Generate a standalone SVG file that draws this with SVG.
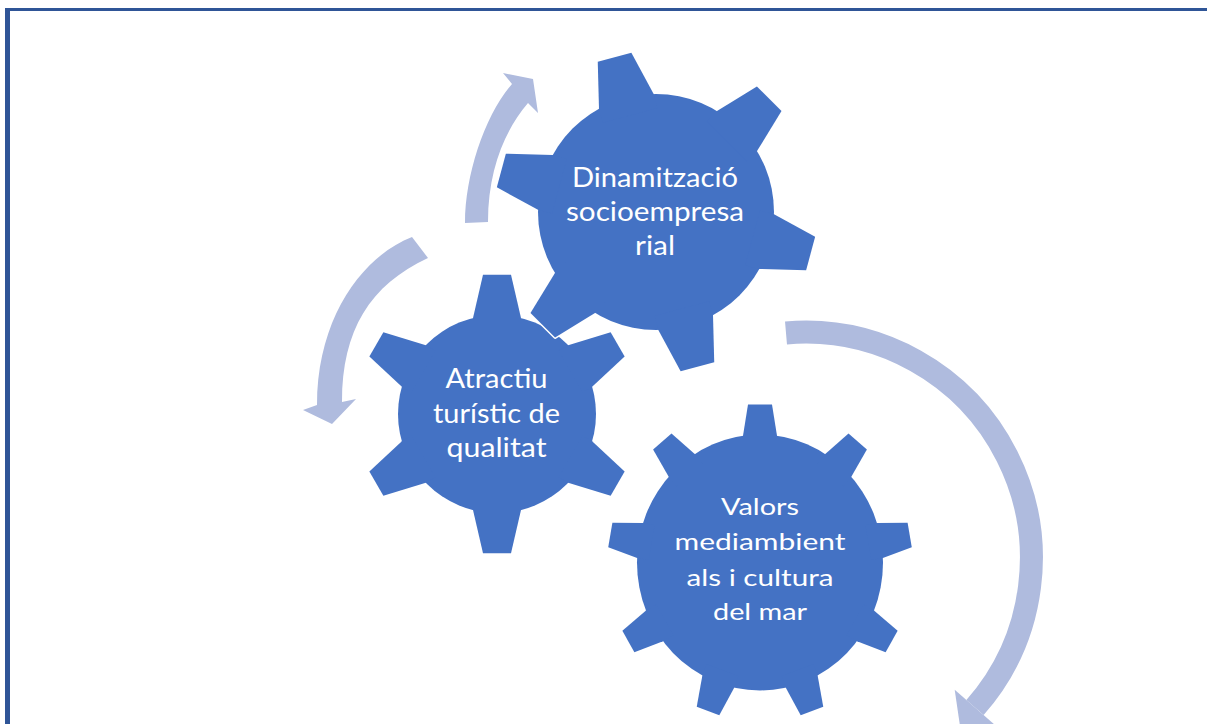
<svg xmlns="http://www.w3.org/2000/svg" width="1207" height="724" viewBox="0 0 1207 724">
<style>
.gear{fill:#4472C4}
.halo{fill:#fff;stroke:#fff;stroke-width:3;stroke-linejoin:round}
.arrow{fill:#AFBBDE}
.shaft{fill:none;stroke:#AFBBDE;stroke-width:23;stroke-linecap:butt}
.lbl{font-family:Lato,"Open Sans","Liberation Sans",sans-serif;fill:#fff;text-anchor:middle}
.frame{fill:#2F5597}
</style>
<defs>
<polygon id="t1" points="-28.3,-100 -28.3,-114.6 -17.4,-160.1 17.4,-160.1 28.3,-114.6 28.3,-100"/>
<polygon id="t2" points="-24,-85 -24,-96 -14,-139.3 14,-139.3 24,-96 24,-85"/>
<polygon id="t3" points="-17,-110 -17,-121.8 -12,-152 12,-152 17,-121.8 17,-110"/>
<g id="g1shape">
<circle r="118"/>
<use href="#t1" transform="rotate(-15)"/>
<use href="#t1" transform="rotate(45)"/>
<use href="#t1" transform="rotate(105)"/>
<use href="#t1" transform="rotate(165)"/>
<use href="#t1" transform="rotate(225)"/>
<use href="#t1" transform="rotate(285)"/>
</g>
<g id="g2shape">
<circle r="99"/>
<use href="#t2"/>
<use href="#t2" transform="rotate(60)"/>
<use href="#t2" transform="rotate(120)"/>
<use href="#t2" transform="rotate(180)"/>
<use href="#t2" transform="rotate(240)"/>
<use href="#t2" transform="rotate(300)"/>
</g>
<g id="g3shape">
<circle r="123"/>
<use href="#t3"/>
<use href="#t3" transform="rotate(40)"/>
<use href="#t3" transform="rotate(80)"/>
<use href="#t3" transform="rotate(120)"/>
<use href="#t3" transform="rotate(160)"/>
<use href="#t3" transform="rotate(200)"/>
<use href="#t3" transform="rotate(240)"/>
<use href="#t3" transform="rotate(280)"/>
<use href="#t3" transform="rotate(320)"/>
</g>
</defs>

<g id="frame">
<rect class="frame" x="5" y="8" width="5" height="716"/>
<rect class="frame" x="5" y="8" width="1202" height="3"/>
</g>

<g id="connectors">
<path id="arrow-up" class="arrow" d="M465,223 C465,175 485,115 512,84 L503,73 L533,79 L538,113 L528,103 C505,130 488,170 488,222 Z"/>
<path id="arrow-left" class="arrow" d="M412,237 C365,255 317,315 317,405 L303,410 L332,424 L356,399 L342,402 C342,330 370,285 428,258 Z"/>
<g id="arrow-right">
<path class="shaft" d="M786,333 A226,226 0 0 1 975,707.5"/>
<polygon class="arrow" points="954.7,689.7 995.3,725.3 960,726"/>
</g>
</g>

<g id="node-atractiu">
<use href="#g2shape" class="halo" transform="translate(497,414)"/>
<use href="#g2shape" class="gear" transform="translate(497,414)"/>
<text class="lbl" font-size="27"><tspan x="496.5" y="388" textLength="102" lengthAdjust="spacingAndGlyphs">Atractiu</tspan><tspan x="496.5" y="423" textLength="127" lengthAdjust="spacingAndGlyphs">turístic de</tspan><tspan x="496.5" y="457" textLength="100" lengthAdjust="spacingAndGlyphs">qualitat</tspan></text>
</g>

<g id="node-valors">
<use href="#g3shape" class="halo" transform="translate(760,562.5) scale(1,1.04)"/>
<use href="#g3shape" class="gear" transform="translate(760,562.5) scale(1,1.04)"/>
<text class="lbl" font-size="24"><tspan x="760" y="515" textLength="78" lengthAdjust="spacingAndGlyphs">Valors</tspan><tspan x="760" y="550" textLength="171" lengthAdjust="spacingAndGlyphs">mediambient</tspan><tspan x="760" y="585.5" textLength="147" lengthAdjust="spacingAndGlyphs">als i cultura</tspan><tspan x="760" y="620" textLength="94" lengthAdjust="spacingAndGlyphs">del mar</tspan></text>
</g>

<g id="node-dinamitzacio">
<use href="#g1shape" class="halo" transform="translate(656,212)"/>
<use href="#g1shape" class="gear" transform="translate(656,212)"/>
<text class="lbl" font-size="27"><tspan x="655" y="187" textLength="166" lengthAdjust="spacingAndGlyphs">Dinamització</tspan><tspan x="655" y="221" textLength="178" lengthAdjust="spacingAndGlyphs">socioempresa</tspan><tspan x="655" y="255" textLength="40" lengthAdjust="spacingAndGlyphs">rial</tspan></text>
</g>
</svg>
